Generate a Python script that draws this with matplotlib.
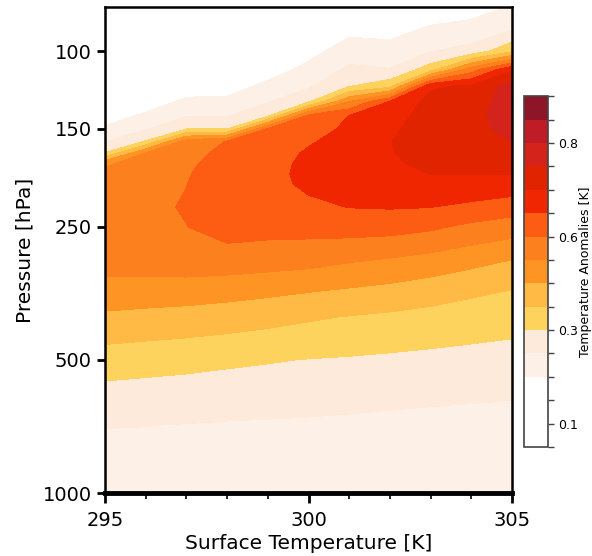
import numpy as np
import matplotlib.pyplot as plt
from matplotlib.ticker import NullLocator

# Surface temperature bins [K] and pressure levels [hPa]
sst = [295, 296, 297, 298, 299, 300, 301, 302, 303, 304, 305]
pressure = [1000, 850, 700, 600, 500, 400, 350, 300, 250, 225, 200, 190,
            180, 170, 160, 150, 140, 130, 120, 110, 100, 90, 80, 70]

# Temperature anomaly profiles [K] for each surface temperature bin
anom_295 = [0.225, 0.242, 0.262, 0.299, 0.349, 0.429, 0.474, 0.523, 0.540, 0.530, 0.514, 0.507,
            0.497, 0.322, 0.254, 0.211, 0.167, 0.150, 0.135, 0.120, 0.105, 0.090, 0.075, 0.060]
anom_296 = [0.228, 0.243, 0.261, 0.295, 0.343, 0.422, 0.471, 0.526, 0.548, 0.546, 0.525, 0.517,
            0.510, 0.502, 0.323, 0.256, 0.212, 0.165, 0.150, 0.135, 0.120, 0.100, 0.085, 0.070]
anom_297 = [0.230, 0.243, 0.259, 0.292, 0.337, 0.416, 0.468, 0.531, 0.559, 0.565, 0.559, 0.555,
            0.550, 0.540, 0.530, 0.318, 0.256, 0.213, 0.167, 0.150, 0.135, 0.120, 0.100, 0.085]
anom_298 = [0.232, 0.244, 0.256, 0.288, 0.330, 0.408, 0.461, 0.529, 0.585, 0.600, 0.600, 0.595,
            0.585, 0.575, 0.562, 0.318, 0.256, 0.215, 0.172, 0.155, 0.140, 0.120, 0.100, 0.085]
anom_299 = [0.235, 0.244, 0.254, 0.285, 0.324, 0.398, 0.452, 0.523, 0.580, 0.595, 0.600, 0.600,
            0.597, 0.590, 0.580, 0.570, 0.310, 0.256, 0.216, 0.172, 0.155, 0.140, 0.120, 0.100]
anom_300 = [0.238, 0.245, 0.252, 0.282, 0.318, 0.387, 0.442, 0.516, 0.581, 0.607, 0.632, 0.637,
            0.635, 0.628, 0.613, 0.589, 0.575, 0.310, 0.252, 0.217, 0.180, 0.165, 0.150, 0.130]
anom_301 = [0.240, 0.245, 0.249, 0.278, 0.314, 0.377, 0.431, 0.502, 0.584, 0.622, 0.650, 0.660,
            0.665, 0.658, 0.646, 0.634, 0.621, 0.496, 0.317, 0.272, 0.230, 0.187, 0.170, 0.150]
anom_302 = [0.240, 0.243, 0.245, 0.275, 0.309, 0.369, 0.420, 0.489, 0.582, 0.625, 0.648, 0.660,
            0.670, 0.676, 0.678, 0.665, 0.645, 0.622, 0.360, 0.262, 0.225, 0.181, 0.160, 0.140]
anom_303 = [0.240, 0.240, 0.242, 0.271, 0.304, 0.360, 0.406, 0.473, 0.570, 0.622, 0.664, 0.681,
            0.695, 0.710, 0.718, 0.720, 0.715, 0.700, 0.670, 0.350, 0.258, 0.213, 0.162, 0.140]
anom_304 = [0.240, 0.238, 0.239, 0.268, 0.300, 0.350, 0.390, 0.454, 0.546, 0.608, 0.659, 0.681,
            0.693, 0.707, 0.720, 0.725, 0.723, 0.712, 0.690, 0.530, 0.280, 0.226, 0.176, 0.150]
anom_305 = [0.240, 0.236, 0.236, 0.265, 0.296, 0.342, 0.377, 0.435, 0.529, 0.590, 0.654, 0.681,
            0.699, 0.719, 0.741, 0.755, 0.768, 0.770, 0.765, 0.670, 0.370, 0.262, 0.208, 0.144]

# Contour levels and colours
levels = np.arange(0.02, 0.93, 0.06)
colors = ['#ffffff', '#ffffff', '#ffffff', '#fdf0e6', '#fdeadb', '#fed35d', '#feba45',
          '#fe9424', '#fd801f', '#fd5d13', '#f02600', '#e02400', '#d3231a', '#be1d28', '#8e1428']
cbar_labels = ['', '0.1', '', '', '', '0.3', '', '', '', '0.6', '', '', '', '0.8', '', '']

anom = np.column_stack([anom_295, anom_296, anom_297, anom_298, anom_299, anom_300,
                        anom_301, anom_302, anom_303, anom_304, anom_305])
T, P = np.meshgrid(sst, pressure)

fig = plt.figure(figsize=(5.92, 5.56), dpi=100)
ax = fig.add_axes([0.1774, 0.1133, 0.6875, 0.8741])
cf = ax.contourf(T, P, anom, levels=levels, colors=colors)

ax.set_yscale('log')
ax.set_ylim(1000, 79.5)
ax.set_yticks([100, 150, 250, 500, 1000])
ax.set_yticklabels(['100', '150', '250', '500', '1000'])
ax.yaxis.set_minor_locator(NullLocator())
ax.set_xlim(295, 305)
ax.set_xticks([295, 300, 305])
ax.set_xticks(range(295, 306), minor=True)

ax.tick_params(which='major', length=6, width=2, labelsize=14)
ax.tick_params(axis='x', which='major', length=7, pad=6)
ax.tick_params(which='minor', length=4, width=1.2)
for side in ['left', 'right', 'top']:
    ax.spines[side].set_linewidth(1.8)
ax.spines['bottom'].set_linewidth(3.5)

ax.set_xlabel('Surface Temperature [K]', fontsize=14.5, labelpad=3)
ax.set_ylabel('Pressure [hPa]', fontsize=14.5, labelpad=6)

# Colourbar on the right
cax = fig.add_axes([0.8851, 0.196, 0.0405, 0.631])
cb = fig.colorbar(cf, cax=cax, ticks=levels)
cb.ax.set_yticklabels(cbar_labels)
cb.ax.tick_params(labelsize=9, length=4, width=1, color='#444444', pad=3)
cb.outline.set_linewidth(1.2)
cb.outline.set_edgecolor('#444444')
cb.set_label('Temperature Anomalies [K]', fontsize=9, labelpad=1)

fig.savefig('out.png', dpi=100)
